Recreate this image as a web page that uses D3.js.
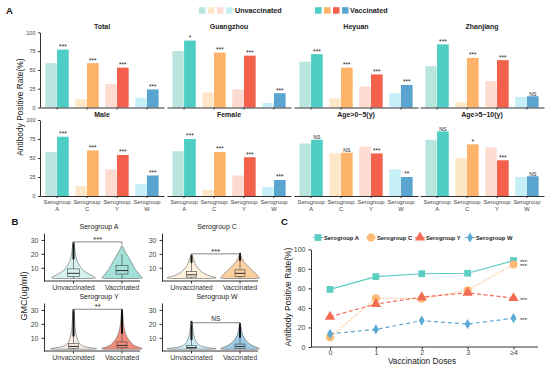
<!DOCTYPE html>
<html>
<head>
<meta charset="utf-8">
<script src="https://cdn.jsdelivr.net/npm/d3@7"></script>
<style>
  body { margin: 0; background: #fff; }
  svg { display: block; font-family: "Liberation Sans", Arial, sans-serif; }
  .axis path, .axis line { stroke: #333; }
  .axis text { fill: #444; }
</style>
</head>
<body>
<svg id="chart" width="550" height="366"></svg>
<script>
// ---------- panel A data ----------
const serogroups = ['A', 'C', 'Y', 'W'];
const facets = ['Total', 'Guangzhou', 'Heyuan', 'Zhanjiang', 'Male', 'Female', 'Age>0~5(y)', 'Age>5~10(y)'];
const unvaccinated = [
  [59, 11, 31, 13],
  [75, 20, 24, 6],
  [61, 12, 28, 19],
  [55, 7, 35, 14],
  [58, 13, 35, 16],
  [59, 8, 27, 12],
  [69, 56, 65, 35],
  [74, 50, 64, 25]
];
const vaccinated = [
  [77, 59, 53, 24],
  [89, 73, 69, 19],
  [71, 53, 44, 30],
  [84, 66, 63, 15],
  [78, 60, 54, 27],
  [75, 58, 51, 21],
  [74, 57, 56, 25],
  [85, 68, 47, 26]
];
const significance = [
  ['***', '***', '***', '***'],
  ['*', '***', '***', '***'],
  ['***', '***', '***', '***'],
  ['***', '***', '***', 'NS'],
  ['***', '***', '***', '***'],
  ['***', '***', '***', '***'],
  ['NS', 'NS', '***', '**'],
  ['NS', '*', '***', 'NS']
];
const rateTicks = [0, 25, 50, 75, 100];

// ---------- panel B data ----------
const groupLabels = ['Unvaccinated', 'Vaccinated'];
const gmcTicks = [10, 20, 30];
const violinTitles = ['Serogroup A', 'Serogroup C', 'Serogroup Y', 'Serogroup W'];
// violin outlines: [GMC, relative density]
const violinUnvac = [
  [[2.3, 0.8], [2.8, 1], [4, 0.88], [5, 0.75], [6.5, 0.6], [8, 0.46], [11, 0.3], [15, 0.16], [20, 0.09], [24, 0.055], [27.5, 0.025], [28, 0]],
  [[2.3, 0.9], [2.8, 1.12], [4, 0.85], [5.5, 0.62], [7, 0.47], [9, 0.33], [11, 0.23], [13, 0.16], [15, 0.12], [17, 0.07], [18.5, 0.03], [19, 0]],
  [[1.8, 0.8], [2.2, 1.05], [3, 0.7], [4, 0.45], [5, 0.33], [6.5, 0.25], [8, 0.2], [10.5, 0.15], [14, 0.1], [18, 0.07], [24, 0.045], [28, 0.03], [30, 0]],
  [[1.8, 0.85], [2.2, 1.12], [3, 0.7], [4, 0.45], [5.5, 0.3], [7, 0.22], [9, 0.16], [11, 0.12], [14, 0.08], [17, 0.05], [20, 0.03], [21.5, 0]]
];
const violinVac = [
  [[2.3, 0.78], [2.8, 0.92], [4, 0.85], [5.5, 0.77], [7, 0.7], [9, 0.6], [11, 0.53], [13, 0.46], [15.5, 0.37], [18, 0.28], [20, 0.2], [22, 0.13], [24, 0.07], [25.5, 0.025], [26, 0]],
  [[2.3, 0.75], [2.8, 0.88], [4, 0.82], [5.5, 0.74], [7, 0.63], [9, 0.5], [11, 0.37], [13, 0.25], [15, 0.15], [17, 0.09], [19, 0.04], [20, 0]],
  [[1.8, 0.78], [2.2, 0.92], [3, 0.8], [4, 0.62], [5, 0.5], [6.5, 0.42], [8, 0.33], [10.5, 0.23], [13, 0.16], [16, 0.11], [20, 0.07], [25, 0.045], [29, 0.02], [30, 0]],
  [[1.8, 0.75], [2.2, 0.88], [3, 0.78], [4, 0.62], [5.5, 0.45], [7, 0.33], [9, 0.23], [11.5, 0.14], [14, 0.09], [17, 0.05], [19.5, 0.02], [20, 0]]
];
// box stats: [low whisker, q1, median, q3, high whisker]
const boxUnvac = [[2.3, 3.8, 6, 9.2, 16], [2.3, 3.3, 5, 7.2, 13.5], [1.8, 2.5, 3.8, 6, 11], [1.8, 2.2, 3, 4.5, 8.5]];
const boxVac = [[2.3, 5.5, 8, 11.5, 20], [2.3, 3.6, 6, 8.5, 15], [1.8, 2.8, 4.5, 7, 13], [1.8, 2.5, 3.8, 5.5, 10]];
// outlier streaks [from, to]
const outlierUnvac = [[16.5, 28], [14, 19], [11.5, 30], [9, 21.5]];
const outlierVac = [null, [15.5, 20], [13.5, 30], [10.5, 20]];
const bracketLevel = [28.6, 20, 30.5, 20.8];
const bracketLabel = ['***', '***', '**', 'NS'];

// ---------- panel C data ----------
const doses = ['0', '1', '2', '3', '≥4'];
const rateA = [59, 72, 75, 75.5, 88.5];
const rateC = [10, 50, 49.5, 58, 84.5];
const rateY = [31, 44, 51, 55.5, 50];
const rateW = [13.5, 18, 27, 23.5, 29.5];
const doseTicks = [0, 20, 40, 60, 80, 100];

// ---------- colours ----------
const vacColors = ['#4ECDC4', '#FDB36A', '#F3604B', '#5AA4D0'];
const unvacColors = ['#B8E6DE', '#FEE7C6', '#FDDBD1', '#C6F0F8'];
const violinVacFill = ['#A3E1D9', '#FAD0A0', '#F48C7C', '#9DCBE5'];
const violinUnvacFill = ['#D5F2EE', '#FDF0DA', '#F9EDE8', '#CDEEF7'];

const svg = d3.select('#chart');

// ================= Panel A =================
const colLeft = [40, 167, 294, 420];
const panelW = 124;
const rowBase = [107.5, 196];
const rowTop = [32.3, 120];

svg.append('text').attr('x', 6).attr('y', 14)
  .attr('font-size', 9.5).attr('font-weight', 'bold').attr('fill', '#111').text('A');

// legend
const legUnvac = svg.append('g');
unvacColors.forEach((c, i) => {
  legUnvac.append('rect').attr('x', 199 + i * 9).attr('y', 7.2).attr('width', 6.5).attr('height', 6.5).attr('fill', c);
});
legUnvac.append('text').attr('x', 235).attr('y', 12.8).attr('font-size', 7.2)
  .attr('font-weight', 'bold').attr('fill', '#222').text('Unvaccinated');
vacColors.forEach((c, i) => {
  legUnvac.append('rect').attr('x', 315 + i * 9).attr('y', 7.2).attr('width', 6.5).attr('height', 6.5).attr('fill', c);
});
legUnvac.append('text').attr('x', 350).attr('y', 12.8).attr('font-size', 7.2)
  .attr('font-weight', 'bold').attr('fill', '#222').text('Vaccinated');

svg.append('text')
  .attr('transform', `translate(23,${(rowTop[0] + rowBase[1]) / 2 - 7}) rotate(-90)`)
  .attr('text-anchor', 'middle').attr('font-size', 8.4).attr('fill', '#222')
  .text('Antibody Positive Rate(%)');

facets.forEach((name, i) => {
  const col = i % 4;
  const row = Math.floor(i / 4);
  const left = colLeft[col];
  const right = left + panelW;
  const y = d3.scaleLinear().domain([0, 100]).range([rowBase[row], rowTop[row]]);
  const x = d3.scaleBand().domain(serogroups).range([left, right]).paddingInner(0.22).paddingOuter(0.18);
  const half = x.bandwidth() / 2;
  const g = svg.append('g');

  g.append('text').attr('x', (left + right) / 2).attr('y', rowTop[row] - 3)
    .attr('text-anchor', 'middle').attr('font-size', 7).attr('font-weight', 'bold')
    .attr('fill', '#222').text(name);

  serogroups.forEach((s, j) => {
    g.append('rect').attr('x', x(s)).attr('width', half - 0.3)
      .attr('y', y(unvaccinated[i][j])).attr('height', y(0) - y(unvaccinated[i][j]))
      .attr('fill', unvacColors[j]);
    g.append('rect').attr('x', x(s) + half).attr('width', half)
      .attr('y', y(vaccinated[i][j])).attr('height', y(0) - y(vaccinated[i][j]))
      .attr('fill', vacColors[j]);
    g.append('text').attr('x', x(s) + half * 1.5).attr('y', y(vaccinated[i][j]) - 0.6)
      .attr('text-anchor', 'middle').attr('font-size', significance[i][j] === 'NS' ? 5.2 : 6.5)
      .attr('fill', '#222').text(significance[i][j]);
  });

  const xa = g.append('g').attr('class', 'axis').attr('transform', `translate(0,${rowBase[row]})`)
    .call(d3.axisBottom(x).tickSize(2).tickSizeOuter(0).tickFormat(''));
  xa.select('.domain').attr('stroke-width', 1);
  if (row === 1) {
    serogroups.forEach(s => {
      const t = g.append('text').attr('text-anchor', 'middle').attr('font-size', 5.8).attr('fill', '#444');
      t.append('tspan').attr('x', x(s) + half).attr('y', rowBase[row] + 8).text('Serogroup');
      t.append('tspan').attr('x', x(s) + half).attr('y', rowBase[row] + 14.5).text(s);
    });
  }
  if (col === 0) {
    const ya = g.append('g').attr('class', 'axis').attr('transform', `translate(${left},0)`)
      .call(d3.axisLeft(y).tickValues(rateTicks).tickSize(2).tickSizeOuter(0));
    ya.selectAll('text').attr('font-size', 5.5).attr('dx', 0.5);
    ya.select('.domain').attr('stroke-width', 1);
  }
});

// ================= Panel B =================
svg.append('text').attr('x', 11.5).attr('y', 224.5)
  .attr('font-size', 9.5).attr('font-weight', 'bold').attr('fill', '#111').text('B');
svg.append('text')
  .attr('transform', 'translate(27,296) rotate(-90)')
  .attr('text-anchor', 'middle').attr('font-size', 9).attr('fill', '#222').text('GMC(ug/ml)');

const bPanels = [{ left: 44, bottom: 281 }, { left: 162, bottom: 281 }, { left: 44, bottom: 351 }, { left: 162, bottom: 351 }];
const maxHalf = 22;

bPanels.forEach((p, k) => {
  const y = d3.scaleLinear().domain([0.5, 35]).range([p.bottom, p.bottom - 48]);
  const x = d3.scalePoint().domain(groupLabels).range([p.left + 29.5, p.left + 78]);
  const g = svg.append('g');

  g.append('text').attr('x', p.left + 55).attr('y', p.bottom - 52)
    .attr('text-anchor', 'middle').attr('font-size', 7).attr('fill', '#222').text(violinTitles[k]);

  const sets = [
    { cx: x('Unvaccinated'), prof: violinUnvac[k], box: boxUnvac[k], out: outlierUnvac[k], fill: violinUnvacFill[k] },
    { cx: x('Vaccinated'), prof: violinVac[k], box: boxVac[k], out: outlierVac[k], fill: violinVacFill[k] }
  ];
  sets.forEach(v => {
    const area = d3.area()
      .y(d => y(d[0]))
      .x0(d => v.cx - d[1] * maxHalf)
      .x1(d => v.cx + d[1] * maxHalf)
      .curve(d3.curveCatmullRom);
    g.append('path').attr('d', area(v.prof)).attr('fill', v.fill)
      .attr('stroke', '#666').attr('stroke-width', 0.6);
    const b = v.box;
    const bw = k === 0 ? 12 : 10;
    g.append('line').attr('x1', v.cx).attr('x2', v.cx).attr('y1', y(b[0])).attr('y2', y(b[4]))
      .attr('stroke', '#444').attr('stroke-width', 0.6);
    g.append('rect').attr('x', v.cx - bw / 2).attr('width', bw)
      .attr('y', y(b[3])).attr('height', y(b[1]) - y(b[3]))
      .attr('fill', v.fill).attr('stroke', '#444').attr('stroke-width', 0.6);
    g.append('line').attr('x1', v.cx - bw / 2).attr('x2', v.cx + bw / 2).attr('y1', y(b[2])).attr('y2', y(b[2]))
      .attr('stroke', '#333').attr('stroke-width', 1);
    if (v.out) {
      g.append('line').attr('x1', v.cx).attr('x2', v.cx).attr('y1', y(v.out[0])).attr('y2', y(v.out[1]))
        .attr('stroke', '#111').attr('stroke-width', 2).attr('stroke-linecap', 'round');
    }
  });

  // significance bracket
  const yb = y(bracketLevel[k]);
  g.append('path')
    .attr('d', `M${x('Unvaccinated')},${yb + 2.5}V${yb}H${x('Vaccinated')}V${yb + 2.5}`)
    .attr('fill', 'none').attr('stroke', '#555').attr('stroke-width', 0.7);
  g.append('text').attr('x', (x('Unvaccinated') + x('Vaccinated')) / 2)
    .attr('y', bracketLabel[k] === 'NS' ? yb - 1.5 : yb - 0.3)
    .attr('text-anchor', 'middle').attr('font-size', bracketLabel[k] === 'NS' ? 6.5 : 7.5)
    .attr('fill', '#222').text(bracketLabel[k]);

  // axes
  const ya = g.append('g').attr('class', 'axis').attr('transform', `translate(${p.left},0)`)
    .call(d3.axisLeft(y).tickValues(gmcTicks).tickSize(2.5).tickSizeOuter(0));
  ya.selectAll('text').attr('font-size', 7).attr('fill', '#333');
  ya.select('.domain').attr('stroke-width', 1);
  g.append('line').attr('x1', p.left).attr('x2', p.left + 96).attr('y1', p.bottom).attr('y2', p.bottom)
    .attr('stroke', '#333').attr('stroke-width', 1);
  groupLabels.forEach(lbl => {
    g.append('line').attr('x1', x(lbl)).attr('x2', x(lbl)).attr('y1', p.bottom).attr('y2', p.bottom + 2.5)
      .attr('stroke', '#333');
    g.append('text').attr('x', x(lbl)).attr('y', p.bottom + 8.5).attr('text-anchor', 'middle')
      .attr('font-size', 7).attr('fill', '#333').text(lbl);
  });
});

// ================= Panel C =================
svg.append('text').attr('x', 281).attr('y', 225)
  .attr('font-size', 9.5).attr('font-weight', 'bold').attr('fill', '#111').text('C');

const cx = d3.scalePoint().domain(doses).range([330, 513.5]);
const cy = d3.scaleLinear().domain([0, 100]).range([347, 249.3]);
const cg = svg.append('g');

const series = [
  { name: 'Serogroup A', values: rateA, color: '#5BCDC2', dash: null, symbol: d3.symbolSquare, size: 46 },
  { name: 'Serogroup C', values: rateC, color: '#FDBA74', dash: '1.2,1.6', symbol: d3.symbolCircle, size: 50 },
  { name: 'Serogroup Y', values: rateY, color: '#F26B55', dash: '4,2.5', symbol: d3.symbolTriangle, size: 46 },
  { name: 'Serogroup W', values: rateW, color: '#5DA9D5', dash: '4,3', symbol: d3.symbolDiamond, size: 30 }
];

const ya = cg.append('g').attr('class', 'axis').attr('transform', 'translate(311,0)')
  .call(d3.axisLeft(cy).tickValues(doseTicks).tickSize(2.5).tickSizeOuter(0));
ya.selectAll('text').attr('font-size', 7).attr('fill', '#333');
ya.select('.domain').attr('stroke-width', 1);
const xa = cg.append('g').attr('class', 'axis').attr('transform', 'translate(0,347)')
  .call(d3.axisBottom(cx).tickSize(2.5).tickSizeOuter(0));
xa.select('.domain').remove();
xa.selectAll('text').attr('font-size', 7).attr('fill', '#333').attr('y', 3.2);
cg.append('line').attr('x1', 311).attr('x2', 538).attr('y1', 347).attr('y2', 347)
  .attr('stroke', '#333').attr('stroke-width', 1);

cg.append('text').attr('x', 422).attr('y', 364).attr('text-anchor', 'middle')
  .attr('font-size', 8.3).attr('fill', '#222').text('Vaccination Doses');
cg.append('text').attr('transform', 'translate(290.5,297) rotate(-90)')
  .attr('text-anchor', 'middle').attr('font-size', 8.5).attr('fill', '#222').text('Antibody Positive Rate(%)');

const line = d3.line().x((d, i) => cx(doses[i])).y(d => cy(d));
series.forEach(s => {
  cg.append('path').attr('d', line(s.values)).attr('fill', 'none')
    .attr('stroke', s.color).attr('stroke-width', 1.2)
    .attr('stroke-dasharray', s.dash);
});
series.forEach(s => {
  s.values.forEach((v, i) => {
    cg.append('path').attr('d', d3.symbol(s.symbol, s.size)())
      .attr('transform', `translate(${cx(doses[i])},${cy(v)})`)
      .attr('fill', s.color);
  });
  const last = s.values[s.values.length - 1];
  cg.append('text').attr('x', cx('≥4') + 6.5).attr('y', cy(last) + 3.4)
    .attr('font-size', 6).attr('fill', '#222').text('***');
});

// legend C
const legX = [318, 371, 420, 470];
series.forEach((s, i) => {
  cg.append('line').attr('x1', legX[i] - 5).attr('x2', legX[i] + 5).attr('y1', 237.5).attr('y2', 237.5)
    .attr('stroke', s.color).attr('stroke-width', 1);
  cg.append('path').attr('d', d3.symbol(s.symbol, s.size)())
    .attr('transform', `translate(${legX[i]},237.5)`).attr('fill', s.color);
  cg.append('text').attr('x', legX[i] + 6).attr('y', 239.6).attr('font-size', 5.8)
    .attr('font-weight', 'bold').attr('fill', '#222').text(s.name);
});
</script>
</body>
</html>
